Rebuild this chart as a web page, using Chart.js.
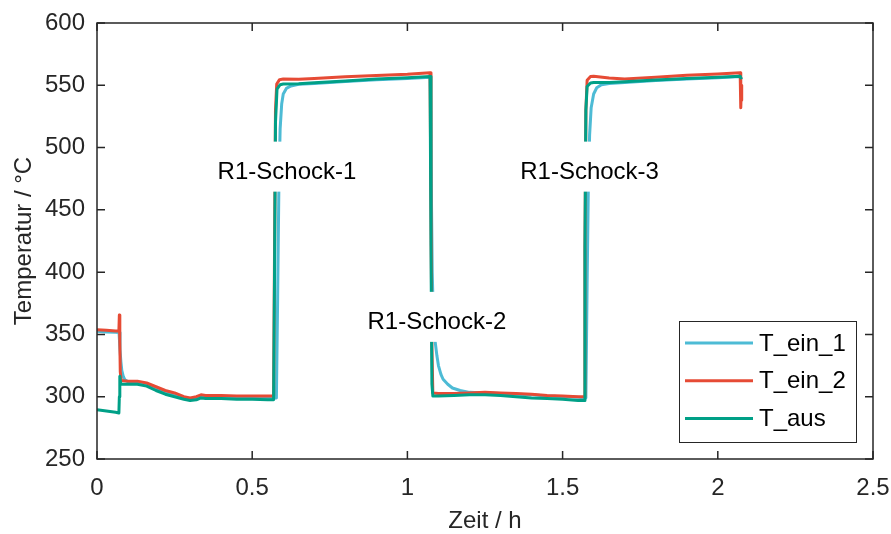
<!DOCTYPE html>
<html>
<head>
<meta charset="utf-8">
<script src="https://cdn.jsdelivr.net/npm/chart.js@4.4.1/dist/chart.umd.min.js"></script>
<style>
  body { margin: 0; background: #fff; }
  canvas { display: block; }
</style>
</head>
<body>
<canvas id="temp-chart" width="891" height="534"></canvas>
<script>
// measured series (time in h, temperature in °C)
const timeEin1 = [0, 0.03, 0.06, 0.071, 0.074, 0.077, 0.08, 0.085, 0.09, 0.1, 0.13, 0.16, 0.19, 0.22, 0.25, 0.28, 0.3, 0.32, 0.335, 0.35, 0.4, 0.45, 0.5, 0.55, 0.578,
  0.582, 0.586, 0.59, 0.595, 0.6, 0.61, 0.625, 0.65, 0.7, 0.8, 0.9, 1.0, 1.074,
  1.077, 1.08, 1.084, 1.089, 1.095, 1.1, 1.108, 1.115, 1.13, 1.145, 1.17, 1.2, 1.25, 1.3, 1.35, 1.4, 1.45, 1.5, 1.55, 1.575,
  1.579, 1.583, 1.587, 1.592, 1.6, 1.61, 1.625, 1.65, 1.7, 1.8, 1.9, 2.0, 2.072, 2.076];
const tempEin1 = [352.5, 352, 351.7, 351.5, 338, 328, 321, 316, 313.5, 312, 311.5, 310, 307, 304, 302, 299, 298, 298.5, 300.5, 300, 299.5, 299.5, 299, 299, 299,
  380, 470, 515, 535, 543, 547.5, 549.5, 550.8, 551.5, 553, 554.5, 555.5, 556.5,
  470, 400, 360, 345, 333, 325, 318, 314, 310, 307, 305, 303.5, 303, 302.5, 302, 301.5, 300.5, 300, 299.5, 299,
  390, 470, 510, 532, 543, 548, 550.5, 551.5, 552.3, 553.8, 555, 556, 557, 554.5];

const timeEin2 = [0, 0.03, 0.06, 0.0705, 0.072, 0.0735, 0.075, 0.078, 0.1, 0.13, 0.16, 0.19, 0.22, 0.25, 0.28, 0.3, 0.32, 0.335, 0.35, 0.4, 0.45, 0.5, 0.55, 0.569,
  0.572, 0.575, 0.579, 0.588, 0.6, 0.65, 0.7, 0.8, 0.9, 1.0, 1.073,
  1.076, 1.079, 1.082, 1.1, 1.15, 1.2, 1.25, 1.3, 1.35, 1.4, 1.45, 1.5, 1.55, 1.569,
  1.572, 1.575, 1.579, 1.59, 1.6, 1.65, 1.7, 1.8, 1.9, 2.0, 2.072, 2.074, 2.076, 2.077];
const tempEin2 = [353.8, 353.3, 352.8, 352.8, 365.5, 345, 320, 313, 312.5, 312.5, 311, 308, 305, 303, 300, 299, 300, 301.5, 301, 301, 300.5, 300.5, 300.5, 300.5,
  420, 530, 551, 554.5, 555, 554.8, 555.5, 556.8, 557.8, 558.8, 560,
  450, 340, 303, 302.5, 302.5, 303, 303.5, 303, 302.5, 302, 301, 300.5, 300, 300,
  420, 530, 554, 557, 557.3, 555.8, 555, 556.5, 558, 559, 560, 532, 550, 538];

const timeAus = [0, 0.03, 0.06, 0.0705, 0.072, 0.0735, 0.076, 0.08, 0.1, 0.13, 0.16, 0.19, 0.22, 0.25, 0.28, 0.3, 0.32, 0.335, 0.35, 0.4, 0.45, 0.5, 0.55, 0.569,
  0.572, 0.575, 0.58, 0.59, 0.6, 0.65, 0.7, 0.8, 0.9, 1.0, 1.073,
  1.076, 1.079, 1.082, 1.1, 1.15, 1.2, 1.25, 1.3, 1.35, 1.4, 1.45, 1.5, 1.55, 1.569,
  1.572, 1.575, 1.579, 1.59, 1.6, 1.65, 1.7, 1.8, 1.9, 2.0, 2.072, 2.076];
const tempAus = [289.5, 288.5, 287.5, 287, 300, 316.5, 311, 310, 310, 310, 308.5, 305, 302, 300, 298, 297, 297.5, 299, 298.5, 298.5, 298, 298, 297.5, 297.5,
  400, 520, 547, 550.5, 551, 551.3, 552, 553.5, 555, 556, 557,
  420, 310, 300.5, 300.5, 301, 301.5, 301.5, 301, 300, 299, 298.5, 298, 297, 297,
  420, 530, 549, 551.8, 552.2, 552.3, 552.8, 554.3, 555.5, 556.5, 557.3, 555];

const seriesNames = ["T_ein_1", "T_ein_2", "T_aus"];
const seriesColors = ["#4DBBD5", "#E64B35", "#00A087"];

const xTicks = [0, 0.5, 1, 1.5, 2, 2.5];
const yTicks = [250, 300, 350, 400, 450, 500, 550, 600];

const noteTexts = ["R1-Schock-1", "R1-Schock-2", "R1-Schock-3"];
const noteTimes = [0.612, 1.095, 1.587];
const noteTemps = [484.7, 364.1, 484.7];

const ink = "#262626";
const fontFamily = "'Liberation Sans', Arial, Helvetica, sans-serif";

function toPoints(times, temps) {
  return times.map((t, i) => ({ x: t, y: temps[i] }));
}

const frameAndNotes = {
  id: "frameAndNotes",
  afterDatasetsDraw(chart) {
    const ctx = chart.ctx;
    const area = chart.chartArea;
    const xs = chart.scales.x;
    const ys = chart.scales.y;
    ctx.save();
    ctx.font = "24px " + fontFamily;
    ctx.textAlign = "center";
    ctx.textBaseline = "middle";

    // text labels with white box
    noteTexts.forEach((txt, i) => {
      const cx = xs.getPixelForValue(noteTimes[i]);
      const cy = ys.getPixelForValue(noteTemps[i]);
      const w = ctx.measureText(txt).width + 8;
      ctx.fillStyle = "#fff";
      ctx.fillRect(cx - w / 2, cy - 25, w, 50);
      ctx.fillStyle = "#000";
      ctx.fillText(txt, cx, cy + 6);
    });

    // legend box, bottom right inside the axes
    const boxW = 177, boxH = 121;
    const bx = area.right - 17 - boxW;
    const by = area.bottom - 17 - boxH;
    ctx.fillStyle = "#fff";
    ctx.fillRect(bx, by, boxW, boxH);
    ctx.strokeStyle = ink;
    ctx.lineWidth = 1;
    ctx.strokeRect(bx + 0.5, by + 0.5, boxW, boxH);
    ctx.textAlign = "left";
    seriesNames.forEach((name, i) => {
      const ly = by + 22 + i * 37.7;
      ctx.strokeStyle = seriesColors[i];
      ctx.lineWidth = 3;
      ctx.beginPath();
      ctx.moveTo(bx + 6, ly);
      ctx.lineTo(bx + 74, ly);
      ctx.stroke();
      ctx.fillStyle = "#000";
      ctx.fillText(name, bx + 80, ly + 1);
    });

    // axes box with inward ticks
    ctx.strokeStyle = ink;
    ctx.lineWidth = 1.5;
    ctx.strokeRect(area.left, area.top, area.right - area.left, area.bottom - area.top);
    ctx.beginPath();
    xTicks.forEach(v => {
      const px = xs.getPixelForValue(v);
      ctx.moveTo(px, area.bottom); ctx.lineTo(px, area.bottom - 8);
      ctx.moveTo(px, area.top); ctx.lineTo(px, area.top + 8);
    });
    yTicks.forEach(v => {
      const py = ys.getPixelForValue(v);
      ctx.moveTo(area.left, py); ctx.lineTo(area.left + 8, py);
      ctx.moveTo(area.right, py); ctx.lineTo(area.right - 8, py);
    });
    ctx.stroke();
    ctx.restore();
  }
};

Chart.defaults.font.family = fontFamily;
Chart.defaults.font.size = 24;
Chart.defaults.color = ink;

new Chart(document.getElementById("temp-chart"), {
  type: "line",
  data: {
    datasets: [
      { label: seriesNames[0], data: toPoints(timeEin1, tempEin1), borderColor: seriesColors[0], order: 2 },
      { label: seriesNames[1], data: toPoints(timeEin2, tempEin2), borderColor: seriesColors[1], order: 1 },
      { label: seriesNames[2], data: toPoints(timeAus, tempAus), borderColor: seriesColors[2], order: 0 }
    ]
  },
  options: {
    responsive: false,
    animation: false,
    layout: { padding: { top: 23, right: 18, left: 0, bottom: 0 } },
    elements: {
      line: { borderWidth: 3, tension: 0, borderJoinStyle: "round", fill: false },
      point: { radius: 0 }
    },
    plugins: { legend: { display: false }, tooltip: { enabled: false } },
    scales: {
      x: {
        type: "linear",
        min: 0,
        max: 2.5,
        afterBuildTicks: scale => { scale.ticks = xTicks.map(v => ({ value: v })); },
        afterFit: scale => { scale.height = 75; scale.paddingLeft = 0; scale.paddingRight = 0; },
        grid: { display: false, drawTicks: false },
        border: { display: false },
        ticks: { padding: 15, maxRotation: 0, color: ink, callback: v => String(v) },
        title: { display: true, text: "Zeit / h", color: ink, padding: { top: 0, bottom: -2 } }
      },
      y: {
        min: 250,
        max: 600,
        afterBuildTicks: scale => { scale.ticks = yTicks.map(v => ({ value: v })); },
        afterFit: scale => { scale.width = 97; scale.paddingTop = 0; scale.paddingBottom = 0; },
        grid: { display: false, drawTicks: false },
        border: { display: false },
        ticks: { padding: 12, color: ink, callback: v => String(v) },
        title: { display: true, text: "Temperatur / °C", color: ink, padding: { top: 10, bottom: 0 } }
      }
    }
  },
  plugins: [frameAndNotes]
});
</script>
</body>
</html>
